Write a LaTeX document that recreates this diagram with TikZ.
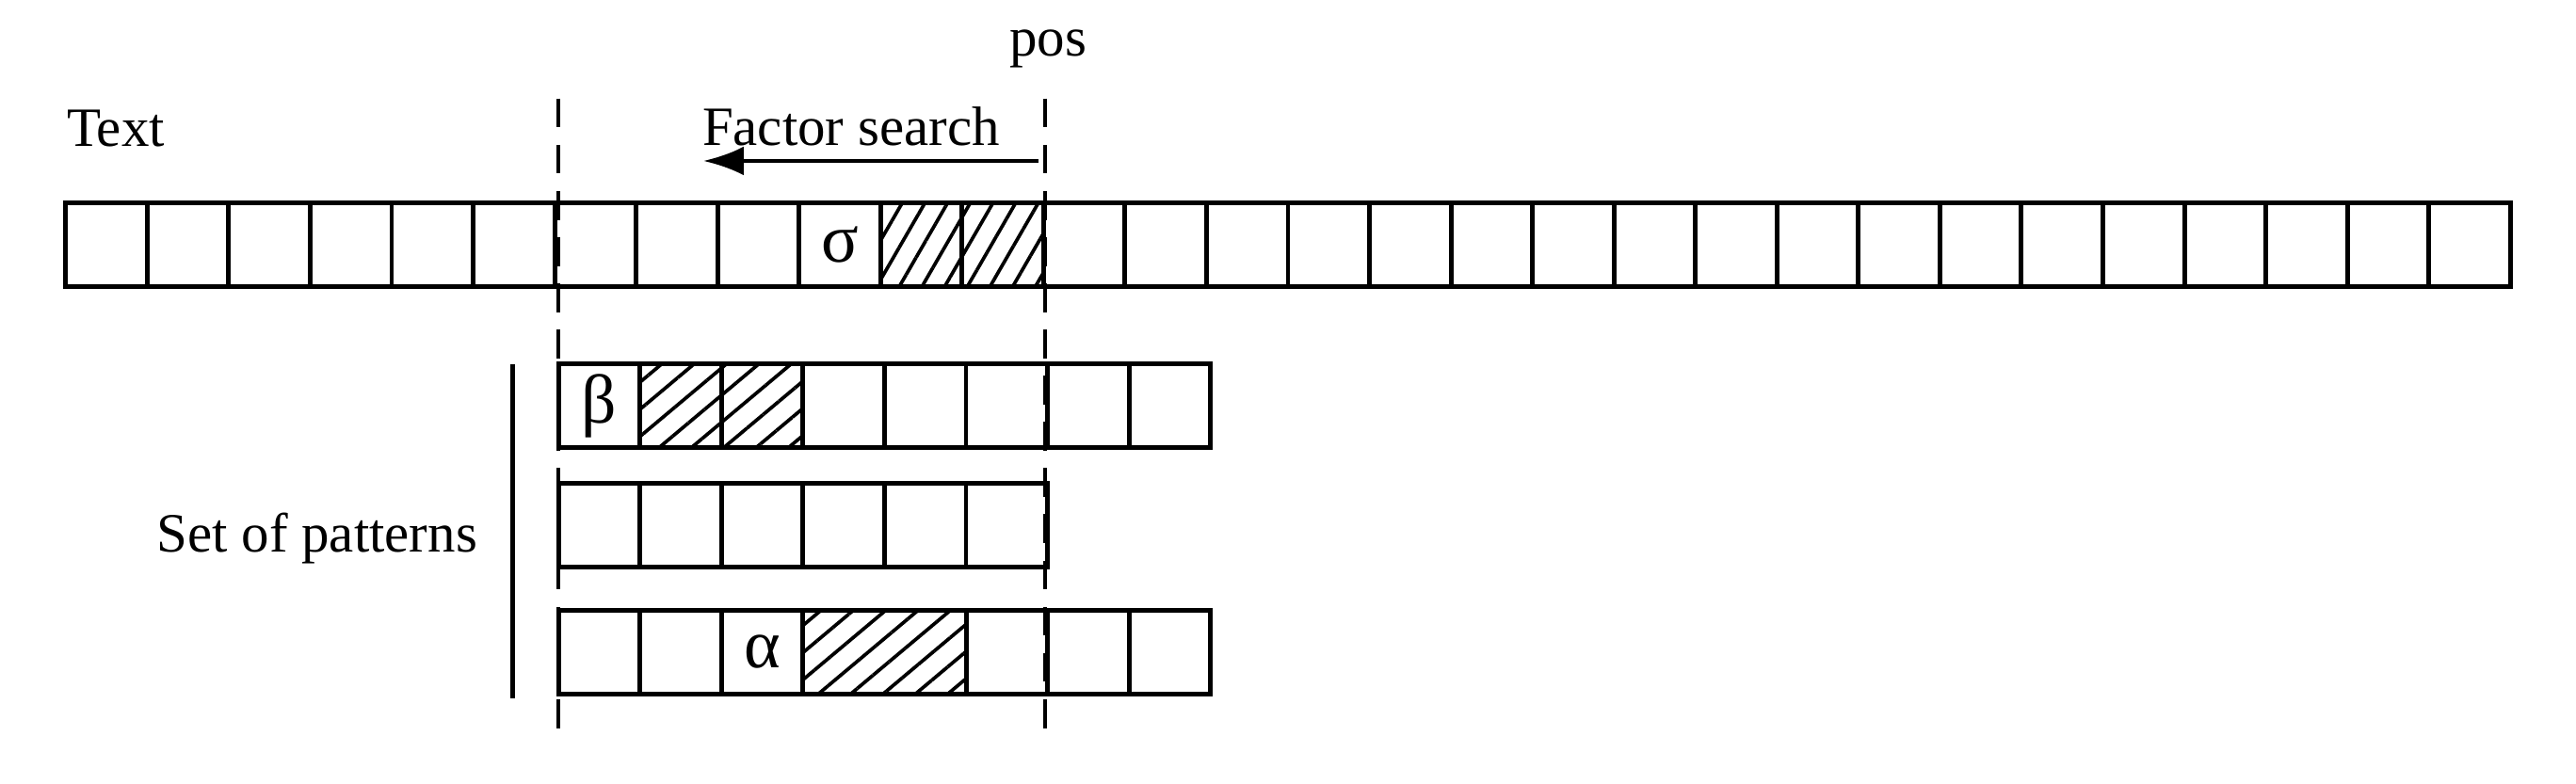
\documentclass[tikz,border=0pt]{standalone}
\usepackage{fontspec}
\setmainfont{Liberation Serif}
\usetikzlibrary{patterns.meta,arrows.meta}
\begin{document}
\begin{tikzpicture}[x=0.01cm,y=-0.01cm,
  cell/.style={draw, line width=0.8pt, minimum width=0.496cm, minimum height=0.51cm,
    inner sep=0pt, outer sep=0pt, font=\fontsize{12}{12}\selectfont},
  hatchT/.style={pattern={Lines[angle=60,distance=3.4pt,line width=0.6pt]}},
  hatchP/.style={pattern={Lines[angle=40,distance=3.6pt,line width=0.6pt]}},
  guide/.style={line width=0.7pt, dash pattern=on 5pt off 3pt},
  lbl/.style={font=\fontsize{9.6}{11}\selectfont, inner sep=0pt},
  solid line/.style={line width=0.8pt}]
\useasboundingbox (0,0) rectangle (1568,477);
% text row
\foreach \i in {1,...,9,13,14,...,30}
  \node[cell] (t\i) at ({40+49.6*(\i-0.5)},149) {};
\node[cell] (t10) at ({40+49.6*9.5},149) {σ};
\node[cell,hatchT] (t11) at ({40+49.6*10.5},149) {};
\node[cell,hatchT] (t12) at ({40+49.6*11.5},149) {};
% pattern 1
\node[cell] (a1) at ({340+49.6*0.5},247) {β};
\node[cell,hatchP] (a2) at ({340+49.6*1.5},247) {};
\node[cell,hatchP] (a3) at ({340+49.6*2.5},247) {};
\foreach \i in {4,...,8}
  \node[cell] (a\i) at ({340+49.6*(\i-0.5)},247) {};
% pattern 2
\foreach \i in {1,...,6}
  \node[cell] (b\i) at ({340+49.6*(\i-0.5)},320) {};
% pattern 3
\node[cell] (c1) at ({340+49.6*0.5},397) {};
\node[cell] (c2) at ({340+49.6*1.5},397) {};
\node[cell] (c3) at ({340+49.6*2.5},397) {α};
\node[cell,hatchP,minimum width=0.992cm] (c4) at ({340+49.6*4},397) {};
\foreach \i in {6,7,8}
  \node[cell] (c\i) at ({340+49.6*(\i-0.5)},397) {};
% guides
\coordinate (g1t) at (340,60);
\coordinate (g1b) at (340,452);
\coordinate (g2t) at (636,60);
\coordinate (g2b) at (636,452);
\draw[guide] (g1t) -- (g1b);
\draw[guide] (g2t) -- (g2b);
% arrow
\coordinate (as) at (632,98);
\coordinate (ae) at (428,98);
\draw[solid line,-{Latex[length=7pt,width=5pt]}] (as) -- (ae);
% set bar
\coordinate (bt) at (312,222);
\coordinate (bb) at (312,425);
\draw[solid line] (bt) -- (bb);
% labels
\node[lbl] (pos) at (638,30) {pos};
\node[lbl,anchor=west] (text) at (40,78) {Text};
\node[lbl] (fs) at (518,77) {Factor search};
\node[lbl] (sop) at (193,328) {Set of patterns};
\end{tikzpicture}
\end{document}
